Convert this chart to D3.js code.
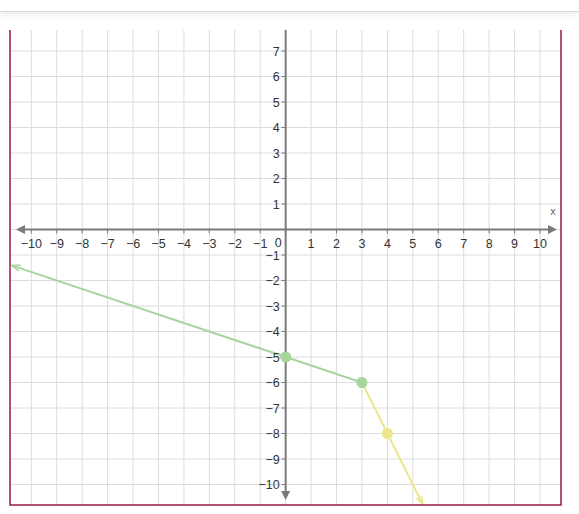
<!DOCTYPE html>
<html>
<head>
<meta charset="utf-8">
<script src="https://cdn.jsdelivr.net/npm/d3@7"></script>
<style>
  body { margin: 0; background: #fff; font-family: "Liberation Sans", Arial, sans-serif; }
  #header { position: absolute; left: 0; top: 0; width: 579px; height: 11px; background: #fff; box-shadow: 0 1px 10px rgba(0,0,0,0.12); border-bottom: 1px solid #d8d8d8; }
  #chart { position: absolute; left: 0; top: 0; }
</style>
</head>
<body>
<div id="chart"></div>
<div id="header"></div>
<script>
// Datos
let xTicks = [-10, -9, -8, -7, -6, -5, -4, -3, -2, -1, 1, 2, 3, 4, 5, 6, 7, 8, 9, 10];
let yTicks = [7, 6, 5, 4, 3, 2, 1, -1, -2, -3, -4, -5, -6, -7, -8, -9, -10];
let gridX = [-10, -9, -8, -7, -6, -5, -4, -3, -2, -1, 0, 1, 2, 3, 4, 5, 6, 7, 8, 9, 10];
let gridY = [7, 6, 5, 4, 3, 2, 1, 0, -1, -2, -3, -4, -5, -6, -7, -8, -9, -10];
let greenPoints = [[0, -5], [3, -6]];
let yellowPoints = [[4, -8]];
// rayos: origen y punto por el que pasan
let greenRay = {from: [3, -6], through: [0, -5]};
let yellowRay = {from: [3, -6], through: [4, -8]};

let chartBlock = d3.select('#chart');
let svg = chartBlock.append('svg').attr('width', 579).attr('height', 514);

// Caja visible
let box = {left: 10, right: 561, top: 30, bottom: 505};

let x = d3.scaleLinear().domain([-10, 10]).range([31.3, 540]);
let y = d3.scaleLinear().domain([7, -10]).range([51, 484.5]);

let xMin = x.invert(box.left), xMax = x.invert(box.right);
let yMax = y.invert(box.top), yMin = y.invert(box.bottom);

svg.append('defs').append('clipPath').attr('id', 'clip')
    .append('rect')
    .attr('x', box.left).attr('y', box.top)
    .attr('width', box.right - box.left).attr('height', box.bottom - box.top);

let plot = svg.append('g').attr('clip-path', 'url(#clip)');

// Rejilla
plot.selectAll('.gx').data(gridX).enter().append('line')
    .attr('x1', d => x(d)).attr('x2', d => x(d))
    .attr('y1', box.top).attr('y2', box.bottom)
    .attr('stroke', '#dcdcdc').attr('stroke-width', 1);
plot.selectAll('.gy').data(gridY).enter().append('line')
    .attr('y1', d => y(d)).attr('y2', d => y(d))
    .attr('x1', box.left).attr('x2', box.right)
    .attr('stroke', '#dcdcdc').attr('stroke-width', 1);

// Ejes
let axisColor = '#7a7a7a';
plot.append('line')
    .attr('x1', 20).attr('x2', 553)
    .attr('y1', y(0)).attr('y2', y(0))
    .attr('stroke', axisColor).attr('stroke-width', 2);
plot.append('line')
    .attr('x1', x(0)).attr('x2', x(0))
    .attr('y1', box.top).attr('y2', 496)
    .attr('stroke', axisColor).attr('stroke-width', 2);

// Flechas
plot.append('path')
    .attr('d', `M16,${y(0)} L25,${y(0) - 4.5} L25,${y(0) + 4.5} Z`)
    .attr('fill', axisColor);
plot.append('path')
    .attr('d', `M557,${y(0)} L548,${y(0) - 4.5} L548,${y(0) + 4.5} Z`)
    .attr('fill', axisColor);
plot.append('path')
    .attr('d', `M${x(0)},500 L${x(0) - 4.5},491 L${x(0) + 4.5},491 Z`)
    .attr('fill', axisColor);

// Marcas
plot.selectAll('.tx').data(xTicks).enter().append('line')
    .attr('x1', d => x(d)).attr('x2', d => x(d))
    .attr('y1', y(0)).attr('y2', y(0) + 4)
    .attr('stroke', axisColor).attr('stroke-width', 1);
plot.selectAll('.ty').data(yTicks).enter().append('line')
    .attr('y1', d => y(d)).attr('y2', d => y(d))
    .attr('x1', x(0) - 4).attr('x2', x(0))
    .attr('stroke', axisColor).attr('stroke-width', 1);

let fmt = d => d < 0 ? '\u2212' + Math.abs(d) : '' + d;

// Etiquetas
svg.selectAll('.lx').data(xTicks).enter().append('text')
    .attr('x', d => x(d)).attr('y', y(0) + 18)
    .attr('text-anchor', 'middle')
    .attr('font-size', 12.5).attr('fill', '#333')
    .text(fmt);
svg.selectAll('.ly').data(yTicks).enter().append('text')
    .attr('x', x(0) - 6).attr('y', d => y(d) + 4.5)
    .attr('text-anchor', 'end')
    .attr('font-size', 12.5).attr('fill', '#333')
    .text(fmt);
svg.append('text')
    .attr('x', x(0) - 11).attr('y', y(0) + 17)
    .attr('font-size', 12.5).attr('fill', '#333')
    .text('0');
svg.append('text')
    .attr('x', 553).attr('y', y(0) - 15)
    .attr('text-anchor', 'middle')
    .attr('font-size', 11).attr('fill', '#666')
    .text('x');

// Rayo hasta el borde de la caja
function rayEnd(ray) {
    let dx = ray.through[0] - ray.from[0], dy = ray.through[1] - ray.from[1];
    let ts = [];
    if (dx > 0) ts.push((xMax - ray.from[0]) / dx);
    if (dx < 0) ts.push((xMin - ray.from[0]) / dx);
    if (dy > 0) ts.push((yMax - ray.from[1]) / dy);
    if (dy < 0) ts.push((yMin - ray.from[1]) / dy);
    let t = d3.min(ts) - 0.04;
    return [ray.from[0] + dx * t, ray.from[1] + dy * t];
}

function drawRay(ray, color) {
    let end = rayEnd(ray);
    let x1 = x(ray.from[0]), y1 = y(ray.from[1]);
    let x2 = x(end[0]), y2 = y(end[1]);
    plot.append('line')
        .attr('x1', x1).attr('y1', y1).attr('x2', x2).attr('y2', y2)
        .attr('stroke', color).attr('stroke-width', 2);
    let ang = Math.atan2(y2 - y1, x2 - x1);
    let len = 7, w = 3;
    let bx = x2 - len * Math.cos(ang), by = y2 - len * Math.sin(ang);
    let p1 = [bx + w * Math.sin(ang), by - w * Math.cos(ang)];
    let p2 = [bx - w * Math.sin(ang), by + w * Math.cos(ang)];
    plot.append('path')
        .attr('d', `M${x2 + 2 * Math.cos(ang)},${y2 + 2 * Math.sin(ang)} L${p1[0]},${p1[1]} M${x2 + 2 * Math.cos(ang)},${y2 + 2 * Math.sin(ang)} L${p2[0]},${p2[1]}`)
        .attr('stroke', color).attr('stroke-width', 1.5).attr('fill', 'none');
}

let green = '#a8d59c', yellow = '#ece78e';
drawRay(yellowRay, yellow);
drawRay(greenRay, green);

plot.selectAll('.py').data(yellowPoints).enter().append('circle')
    .attr('cx', d => x(d[0])).attr('cy', d => y(d[1])).attr('r', 5.5)
    .attr('fill', yellow);
plot.selectAll('.pg').data(greenPoints).enter().append('circle')
    .attr('cx', d => x(d[0])).attr('cy', d => y(d[1])).attr('r', 5.5)
    .attr('fill', green);

// Borde
let borderColor = '#9a1840';
svg.append('path')
    .attr('d', `M${box.left},${box.top} L${box.left},${box.bottom} L${box.right},${box.bottom} L${box.right},${box.top}`)
    .attr('stroke', borderColor).attr('stroke-width', 1.5).attr('fill', 'none');
</script>
</body>
</html>
